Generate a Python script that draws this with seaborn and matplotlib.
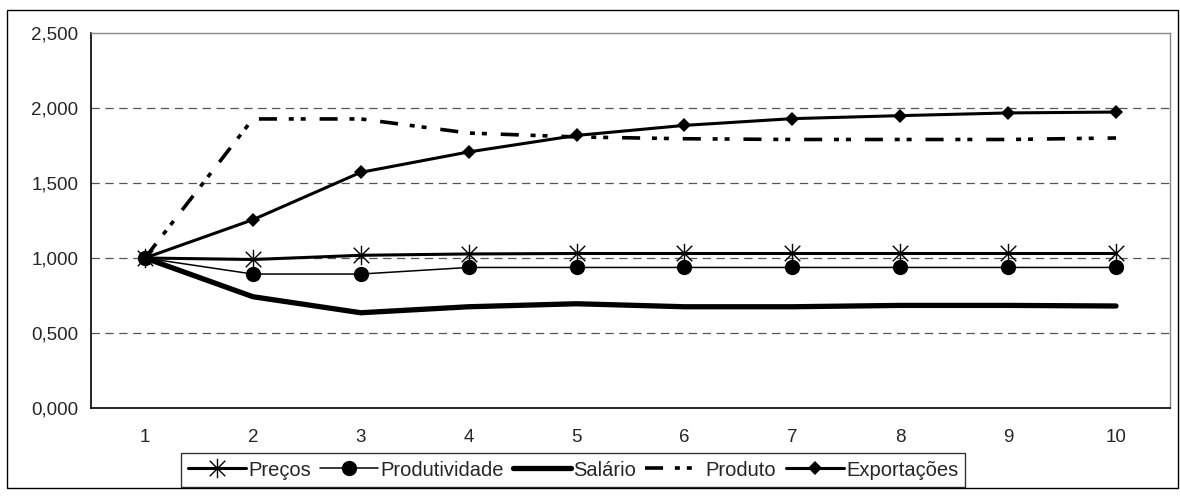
import numpy as np
import pandas as pd
import matplotlib
matplotlib.use('Agg')
import matplotlib.pyplot as plt
from matplotlib.path import Path
from matplotlib.patches import Rectangle
import seaborn as sns

periods = [1, 2, 3, 4, 5, 6, 7, 8, 9, 10]
precos = [1.000, 0.990, 1.018, 1.027, 1.030, 1.030, 1.030, 1.030, 1.030, 1.030]
produtividade = [1.000, 0.893, 0.893, 0.937, 0.937, 0.937, 0.937, 0.937, 0.937, 0.937]
salario = [1.000, 0.742, 0.635, 0.675, 0.695, 0.675, 0.675, 0.684, 0.684, 0.680]
produto = [1.000, 1.927, 1.927, 1.833, 1.807, 1.795, 1.790, 1.790, 1.790, 1.800]
exportacoes = [1.000, 1.255, 1.571, 1.707, 1.817, 1.884, 1.929, 1.949, 1.967, 1.973]
y_ticks = [0.0, 0.5, 1.0, 1.5, 2.0, 2.5]

sns.set_style("white")
plt.rcParams['font.family'] = ['Liberation Sans', 'DejaVu Sans']
plt.rcParams['lines.scale_dashes'] = False

# asterisk marker like Excel: vertical bar plus an X
star = Path([(0, -1), (0, 1), (-0.8, -0.8), (0.8, 0.8), (-0.8, 0.8), (0.8, -0.8)],
            [Path.MOVETO, Path.LINETO, Path.MOVETO, Path.LINETO, Path.MOVETO, Path.LINETO])

fig = plt.figure(figsize=(11.8, 4.96), dpi=100)
ax = fig.add_axes([0.0771, 0.1774, 0.9144, 0.7561])

series = [
    ("Preços", precos, dict(lw=2.2, marker=star, markersize=14, markeredgewidth=1.0,
                            markerfacecolor='none', markeredgecolor='black')),
    ("Produtividade", produtividade, dict(lw=1.1, marker='o', markersize=11,
                                          markeredgewidth=0)),
    ("Salário", salario, dict(lw=3.8)),
    ("Produto", produto, dict(lw=2.6, linestyle=(0, (13, 8.5, 3.6, 5, 3.6, 10)))),
    ("Exportações", exportacoes, dict(lw=2.2, marker='D', markersize=7.5,
                                      markeredgewidth=0)),
]

for name, vals, style in series:
    sns.lineplot(x=periods, y=vals, ax=ax, color='black', label=name, **style)

ax.set_xlim(0.5, 10.5)
ax.set_ylim(0, 2.5)
ax.set_yticks(y_ticks)
ax.set_yticklabels([f"{v:.3f}".replace('.', ',') for v in y_ticks], fontsize=13.5)
ax.set_xticks(periods)
ax.set_xticklabels([str(p) for p in periods], fontsize=13.5)
ax.set_xticks(np.arange(0.5, 11, 1.0), minor=True)
ax.tick_params(axis='x', which='major', length=0, pad=15)
ax.tick_params(axis='x', which='minor', length=5, width=1, color='black', direction='out')
ax.tick_params(axis='y', length=5, width=1, color='black', direction='out', pad=4)

for y in y_ticks[1:-1]:
    ax.axhline(y, color='#555555', lw=0.9, linestyle=(0, (6, 4)), zorder=0)

for side in ['left', 'bottom']:
    ax.spines[side].set_color('black')
    ax.spines[side].set_linewidth(1.2)
for side in ['top', 'right']:
    ax.spines[side].set_color('#888888')
    ax.spines[side].set_linewidth(1.0)

leg = ax.legend(loc='center', bbox_to_anchor=(0.4856, 0.0524), bbox_transform=fig.transFigure,
                ncol=5, frameon=True, fancybox=False, fontsize=14.5, handlelength=2.9,
                handletextpad=0.1, columnspacing=0.45, borderpad=0.35, edgecolor='black')
leg.get_frame().set_linewidth(1.0)

fig.patches.append(Rectangle((0.006, 0.016), 0.992, 0.964, transform=fig.transFigure,
                             fill=False, edgecolor='black', lw=1.0))

fig.savefig("out.png", dpi=100)
